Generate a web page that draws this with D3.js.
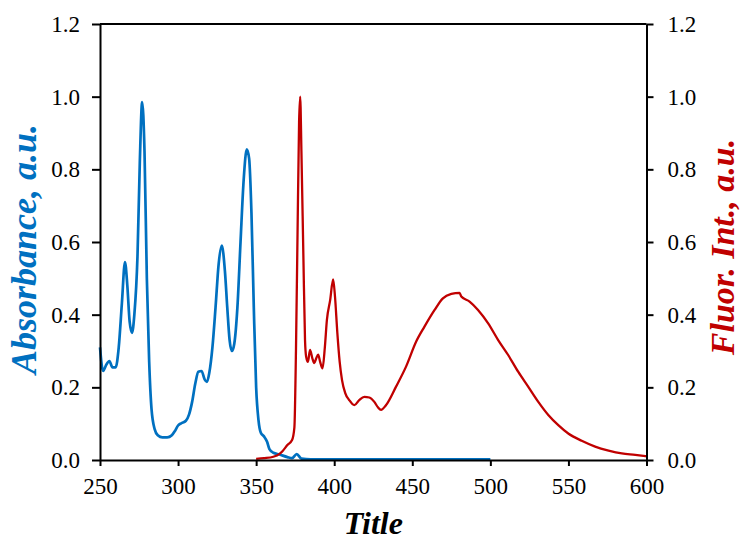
<!DOCTYPE html>
<html><head><meta charset="utf-8">
<script src="https://cdn.jsdelivr.net/npm/d3@7"></script>
<style>body{margin:0;background:#fff;}</style>
</head><body>
<svg id="chart" width="742" height="540"></svg>
<script>
// ---- data ----
const xTicks = [250, 300, 350, 400, 450, 500, 550, 600];
const yTicks = [0.0, 0.2, 0.4, 0.6, 0.8, 1.0, 1.2];
const xTitle = "Title";
const yLeftTitle = "Absorbance, a.u.";
const yRightTitle = "Fluor. Int., a.u.";

const absWl  = [250,252,254,256,258,260,262,264,266,267.5,269,270.5,272,274,275.5,277,278.5,280,281.5,283,285,287,290,293,296,298,300,302,305,307,309,311,313,315,317,318.5,320,322,324,326,328,330,331.5,333,334.5,336,338,340,342,344,345.5,347,348.5,350,351.5,353,355,357,358.5,361,365,370,373,376,379,385,400,450,500];
const absVal = [0.31,0.245,0.262,0.272,0.255,0.255,0.31,0.43,0.545,0.48,0.38,0.35,0.40,0.56,0.82,0.985,0.85,0.50,0.27,0.14,0.085,0.068,0.062,0.062,0.068,0.08,0.095,0.101,0.108,0.125,0.16,0.21,0.243,0.245,0.222,0.215,0.24,0.31,0.42,0.54,0.59,0.52,0.42,0.33,0.30,0.32,0.42,0.60,0.77,0.855,0.83,0.68,0.42,0.20,0.11,0.075,0.065,0.05,0.03,0.02,0.015,0.008,0.005,0.016,0.004,0.002,0.002,0.002,0.002];

const flWl  = [350,355,361,365,367,370,373,374.5,375.5,376.5,377.5,378.2,379,380.3,381.3,382,383.2,384.5,386,387.2,388.5,389.7,391,392.5,394,395.3,397.4,399.3,400.5,402,403.5,405,407,409.6,412.9,416,419.3,422.5,425.7,428,430,433,439.6,446,452.5,457.8,464.3,469.6,475,480.3,481.4,486.7,492.1,498.6,505,511.4,517.8,524.2,530.7,537.1,543.5,549.9,558.5,567.1,575.7,584.2,592.8,600];
const flVal = [0.003,0.005,0.009,0.017,0.025,0.041,0.055,0.09,0.3,0.62,0.93,1.0,0.85,0.55,0.33,0.285,0.27,0.303,0.28,0.267,0.28,0.29,0.27,0.252,0.31,0.385,0.44,0.497,0.45,0.35,0.27,0.22,0.185,0.165,0.151,0.165,0.174,0.172,0.16,0.145,0.138,0.15,0.202,0.257,0.326,0.367,0.413,0.445,0.457,0.46,0.45,0.436,0.413,0.376,0.33,0.289,0.243,0.202,0.16,0.124,0.096,0.073,0.053,0.037,0.026,0.018,0.014,0.01];

// ---- layout ----
const L = 100, R = 646.5, T = 24, B = 460;
const svg = d3.select("#chart");
const x = d3.scaleLinear().domain([250, 600]).range([L, R]);
const yL = d3.scaleLinear().domain([0, 1.2]).range([B, T]);
const yR = d3.scaleLinear().domain([0, 1.2]).range([B, T]);
const font = "Liberation Serif";

const line = (xs, ys, sy) => d3.line().curve(d3.curveMonotoneX)
  .x((d, i) => x(xs[i])).y((d, i) => sy(ys[i]))(xs);

svg.append("path").attr("d", line(absWl, absVal, yL))
  .attr("fill", "none").attr("stroke", "#0070C0").attr("stroke-width", 2.7).attr("stroke-linejoin", "round");
svg.append("path").attr("d", line(flWl, flVal, yR))
  .attr("fill", "none").attr("stroke", "#C00000").attr("stroke-width", 2.3).attr("stroke-linejoin", "round");

function styleAxis(g) {
  g.attr("font-family", font).attr("font-size", 23);
  g.select(".domain").attr("stroke", "#000").attr("stroke-width", 2);
  g.selectAll(".tick line").attr("stroke", "#000").attr("stroke-width", 2);
  g.selectAll(".tick text").attr("fill", "#000").attr("font-family", font).attr("font-size", 23);
}

const fmt = d3.format(".1f");
svg.append("g").attr("transform", `translate(0,${B})`)
  .call(d3.axisBottom(x).tickValues(xTicks).tickSize(6).tickSizeOuter(0).tickPadding(12))
  .call(styleAxis);
svg.append("g").attr("transform", `translate(${L},0)`)
  .call(d3.axisLeft(yL).tickValues(yTicks).tickFormat(fmt).tickSize(8).tickSizeOuter(0).tickPadding(12))
  .call(styleAxis);
svg.append("g").attr("transform", `translate(${R},0)`)
  .call(d3.axisRight(yR).tickValues(yTicks).tickFormat(fmt).tickSize(7).tickSizeOuter(0).tickPadding(14))
  .call(styleAxis);
// top frame
svg.append("line").attr("x1", L).attr("x2", R).attr("y1", T).attr("y2", T)
  .attr("stroke", "#000").attr("stroke-width", 2);

function title(t, fill, transform, size) {
  svg.append("text").text(t).attr("transform", transform)
    .attr("text-anchor", "middle")
    .attr("font-family", font).attr("font-size", size)
    .attr("font-weight", "bold").attr("font-style", "italic").attr("fill", fill);
}
title(xTitle, "#000", `translate(${(L + R) / 2},534)`, 32);
title(yLeftTitle, "#0070C0", `translate(36,249) rotate(-90)`, 36);
title(yRightTitle, "#C00000", `translate(734,247) rotate(-90)`, 34);
</script>
</body></html>
